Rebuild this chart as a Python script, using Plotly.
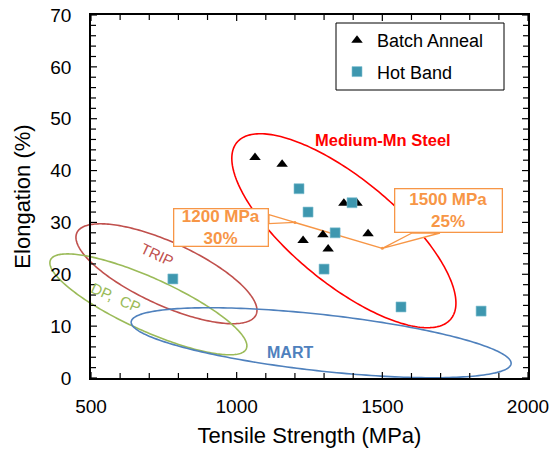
import numpy as np
import plotly.graph_objects as go

# ---------------- data ----------------
batch_strength = [1063, 1156, 1368, 1413, 1228, 1296, 1314, 1451]
batch_elong = [42.5, 41.2, 33.7, 33.7, 26.5, 27.6, 24.9, 27.8]

hot_strength = [781, 1214, 1245, 1396, 1338, 1300, 1564, 1839]
hot_elong = [19.1, 36.5, 32.0, 33.8, 28.0, 21.0, 13.7, 12.9]

target_strength = [1200, 1500]
target_elong = [30, 25]
target_labels = ["1200 MPa<br>30%", "1500 MPa<br>25%"]

x_ticks = [500, 1000, 1500, 2000]
y_ticks = [0, 10, 20, 30, 40, 50, 60, 70]
x_minor_step = 100
y_minor_step = 2

# property regions: name, center (MPa, %), semi-axes (px), tilt (deg), colour
region_names = ["Medium-Mn Steel", "TRIP", "DP,  CP", "MART"]
region_centers = [(1368, 28.4), (759, 20.1), (697, 14.2), (1290, 6.8)]
region_axes_px = [(138.7, 52.2), (98.5, 31.4), (107.5, 26.3), (191.1, 28.2)]
region_tilt = [39.5, 24.6, 24.4, 6.3]
region_colors = ["#FF0000", "#C0504D", "#9BBB59", "#4F81BD"]

# ---------------- layout geometry ----------------
W, H = 555, 451
ML, MR, MT, MB = 91, 27, 15, 73
XR = [x_ticks[0], x_ticks[-1]]
YR = [y_ticks[0], y_ticks[-1]]
PW = W - ML - MR
PH = H - MT - MB
PX_PER_X = PW / (XR[1] - XR[0])
PX_PER_Y = PH / (YR[1] - YR[0])
MAJOR_LEN, MINOR_LEN = 6, 5


def ellipse(center, axes_px, tilt, n=240):
    t = np.linspace(0, 2 * np.pi, n)
    a, b = axes_px
    ex, ey = a * np.cos(t), b * np.sin(t)
    th = np.deg2rad(tilt)
    X = ex * np.cos(th) - ey * np.sin(th)
    Y = ex * np.sin(th) + ey * np.cos(th)  # screen y (down)
    return center[0] + X / PX_PER_X, center[1] - Y / PX_PER_Y


def to_paper(x, y):
    return (np.asarray(x) - XR[0]) / (XR[1] - XR[0]), (np.asarray(y) - YR[0]) / (YR[1] - YR[0])


def px_offset(pt, dx, dy):
    return pt[0] + dx / PX_PER_X, pt[1] - dy / PX_PER_Y


fig = go.Figure()

# region outlines (paper-referenced paths so they may run past the axes like the original)
for name, c, ax, tl, col in zip(region_names, region_centers, region_axes_px, region_tilt, region_colors):
    ex, ey = ellipse(c, ax, tl)
    px_, py_ = to_paper(ex, ey)
    path = "M " + " L ".join("%.5f,%.5f" % (a, b) for a, b in zip(px_, py_)) + " Z"
    fig.add_shape(type="path", path=path, xref="paper", yref="paper",
                  line=dict(color=col, width=1.6), layer="below")

# legend frame
fig.add_shape(type="rect", xref="paper", yref="paper",
              x0=(336 - ML) / PW, x1=(504 - ML) / PW,
              y0=(MT + PH - 90) / PH, y1=(MT + PH - 23) / PH,
              line=dict(color="black", width=1), fillcolor="white", layer="below")

# inside tick marks on all four sides (major + minor), built from the tick arrays
tx, ty = [], []
for v in np.arange(x_ticks[0], x_ticks[-1] + 1, x_minor_step):
    ln = (MAJOR_LEN if v in x_ticks else MINOR_LEN) / PX_PER_Y
    tx += [v, v, None, v, v, None]
    ty += [YR[0], YR[0] + ln, None, YR[1], YR[1] - ln, None]
for v in np.arange(y_ticks[0], y_ticks[-1] + 1, y_minor_step):
    ln = (MAJOR_LEN if v in y_ticks else MINOR_LEN) / PX_PER_X
    tx += [XR[0], XR[0] + ln, None, XR[1], XR[1] - ln, None]
    ty += [v, v, None, v, v, None]
fig.add_trace(go.Scatter(x=tx, y=ty, mode="lines", line=dict(color="black", width=1.2),
                         showlegend=False, hoverinfo="skip"))

ORANGE = "#F79646"
fig.add_trace(go.Scatter(x=target_strength, y=target_elong, mode="lines+markers",
                         line=dict(color=ORANGE, width=1.5),
                         marker=dict(color=ORANGE, size=3), showlegend=False, hoverinfo="skip"))

# callout boxes: center (data), size px, wedge base offsets (px, relative to box center)
callout_centers = [(946, 29.1), (1727, 32.3)]
callout_size = [(96, 39), (109, 45)]
callout_base = [[(48, -12.5), (48, -3.5)], [(-36.5, 22.5), (-8.5, 22.5)]]

for cc, base, px0, py0 in zip(callout_centers, callout_base, target_strength, target_elong):
    p1 = px_offset(cc, *base[0])
    p2 = px_offset(cc, *base[1])
    fig.add_trace(go.Scatter(x=[p1[0], px0, p2[0], p1[0]], y=[p1[1], py0, p2[1], p1[1]],
                             mode="lines", fill="toself", fillcolor="white",
                             line=dict(color=ORANGE, width=1.3), showlegend=False, hoverinfo="skip"))

fig.add_trace(go.Scatter(x=batch_strength, y=batch_elong, mode="markers", name="Batch Anneal",
                         marker=dict(symbol="triangle-up", size=10, color="black"),
                         legendgroup="a"))
fig.add_trace(go.Scatter(x=hot_strength, y=hot_elong, mode="markers", name="Hot Band",
                         marker=dict(symbol="square", size=10, color="#3E97AF",
                                     line=dict(color="#7FC0D2", width=0.6)),
                         legendgroup="b"))

for lab, cc, sz in zip(target_labels, callout_centers, callout_size):
    fig.add_annotation(x=cc[0], y=cc[1], text="<b>" + lab + "</b>", showarrow=False,
                       font=dict(family="Liberation Sans, Arial", size=17, color=ORANGE),
                       bgcolor="white", bordercolor=ORANGE, borderwidth=1.3, borderpad=0,
                       width=sz[0] - 3, height=sz[1] - 3, xanchor="center", yanchor="middle")

# region labels
label_pos = [(1501, 45.8), (727, 23.75), (586, 15.6), (1183, 5.0)]
label_angle = [0, 25, 24, 0]
label_size = [16.5, 15, 15, 16]
label_bold = [True, False, False, True]
for name, pos, ang, sz, col, bd in zip(region_names, label_pos, label_angle, label_size, region_colors, label_bold):
    fig.add_annotation(x=pos[0], y=pos[1], text=("<b>%s</b>" % name) if bd else name,
                       showarrow=False, textangle=ang,
                       font=dict(family="Liberation Sans, Arial", size=sz, color=col))

axis_common = dict(showgrid=False, zeroline=False, showline=True, linecolor="black", linewidth=1.5,
                   mirror=True, ticks="", automargin=False, tickmode="linear",
                   tickfont=dict(family="Liberation Sans, Arial", size=19, color="black"))

fig.update_xaxes(range=XR, tick0=x_ticks[0], dtick=x_ticks[1] - x_ticks[0],
                 ticklabelstandoff=10,
                 title=dict(text="Tensile Strength (MPa)", standoff=12,
                            font=dict(family="Liberation Sans, Arial", size=22, color="black")),
                 **axis_common)
fig.update_yaxes(range=YR, tick0=y_ticks[0], dtick=y_ticks[1] - y_ticks[0],
                 ticklabelstandoff=14,
                 title=dict(text="Elongation (%)", standoff=14,
                            font=dict(family="Liberation Sans, Arial", size=22, color="black")),
                 **axis_common)

fig.update_layout(width=W, height=H, margin=dict(l=ML, r=MR, t=MT, b=MB),
                  plot_bgcolor="rgba(0,0,0,0)", paper_bgcolor="white",
                  font=dict(family="Liberation Sans, Arial", color="black"),
                  legend=dict(x=(337 - ML) / PW, y=(MT + PH - 22) / PH, xanchor="left", yanchor="top",
                              borderwidth=0, bgcolor="rgba(0,0,0,0)",
                              font=dict(size=18, color="black"), tracegroupgap=5,
                              itemwidth=30))

fig.write_html("out.html")
